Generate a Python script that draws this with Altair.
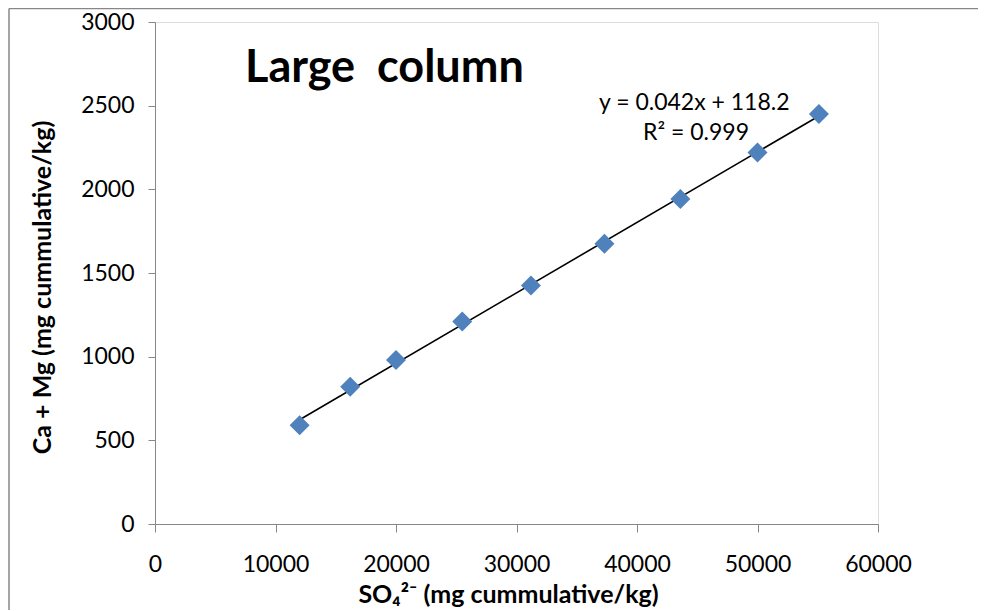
import altair as alt
import pandas as pd

# Data
so4_values = [12000, 16200, 20000, 25500, 31200, 37300, 43600, 50000, 55100]
camg_values = [590, 820, 980, 1210, 1425, 1675, 1942, 2220, 2450]

x_ticks = [0, 10000, 20000, 30000, 40000, 50000, 60000]
y_ticks = [0, 500, 1000, 1500, 2000, 2500, 3000]

chart_title = "Large\u00a0 column"
equation_text = "y = 0.042x + 118.2"
r2_text = "R² = 0.999"
x_title = "SO₄²⁻ (mg cummulative/kg)"
y_title = "Ca + Mg (mg cummulative/kg)"

df = pd.DataFrame({"so4": so4_values, "camg": camg_values})

FONT = "Lato"
GREY = "#878787"
W, H = 723, 502

x_enc = alt.X(
    "so4:Q",
    scale=alt.Scale(domain=[0, 60000], nice=False),
    axis=alt.Axis(
        values=x_ticks, format="d", grid=False, labelFlush=False,
        domainColor=GREY, tickColor=GREY, tickSize=8,
        labelFont=FONT, labelFontSize=23, labelColor="black", labelPadding=21,
        title=x_title, titleFont=FONT, titleFontSize=25, titleFontWeight="bold",
        titleColor="black", titleX=353, titleY=70, titleBaseline="middle",
        titleAlign="center",
    ),
)
y_enc = alt.Y(
    "camg:Q",
    scale=alt.Scale(domain=[0, 3000], nice=False),
    axis=alt.Axis(
        values=y_ticks, format="d", grid=False, labelFlush=False,
        domainColor=GREY, tickColor=GREY, tickSize=7,
        labelFont=FONT, labelFontSize=23, labelColor="black", labelPadding=14,
        title=y_title, titleFont=FONT, titleFontSize=25, titleFontWeight="bold",
        titleColor="black", titleX=-113, titleY=265, titleBaseline="middle",
        titleAlign="center", titleAngle=270,
    ),
)

base = alt.Chart(df)

points = base.mark_point(
    shape="diamond", filled=True, size=400, color="#4F81BD", opacity=1
).encode(x=x_enc, y=y_enc)

trend = base.transform_regression("so4", "camg").mark_line(
    color="black", strokeWidth=1.6
).encode(x="so4:Q", y="camg:Q")

title_mark = alt.Chart(pd.DataFrame({"t": [chart_title]})).mark_text(
    font=FONT, fontSize=45, fontWeight="bold", align="left",
    baseline="alphabetic", color="black"
).encode(x=alt.value(90), y=alt.value(60), text="t:N")

eq_mark = alt.Chart(pd.DataFrame({"t": [equation_text]})).mark_text(
    font=FONT, fontSize=23, align="left", baseline="middle", color="black"
).encode(x=alt.value(444), y=alt.value(81), text="t:N")

r2_mark = alt.Chart(pd.DataFrame({"t": [r2_text]})).mark_text(
    font=FONT, fontSize=23, align="left", baseline="middle", color="black"
).encode(x=alt.value(488), y=alt.value(111), text="t:N")

# outer chart frame (clipped in the reference)
frame_left = alt.Chart(pd.DataFrame({"a": [0]})).mark_rule(
    color=GREY, strokeWidth=1.5, clip=False
).encode(x=alt.value(-146), y=alt.value(-13.5), y2=alt.value(600))
frame_top = alt.Chart(pd.DataFrame({"a": [0]})).mark_rule(
    color=GREY, strokeWidth=1.5, clip=False
).encode(x=alt.value(-146), x2=alt.value(900), y=alt.value(-13.5))

chart = alt.layer(
    frame_left, frame_top, trend, points, title_mark, eq_mark, r2_mark
).properties(
    width=W, height=H,
    autosize=alt.AutoSizeParams(type="none"),
    padding={"left": 147, "top": 14, "right": 100, "bottom": 86},
).configure_view(stroke=None).configure(background="white")

chart.save("out.html", embed_options={"renderer": "svg", "actions": False})
